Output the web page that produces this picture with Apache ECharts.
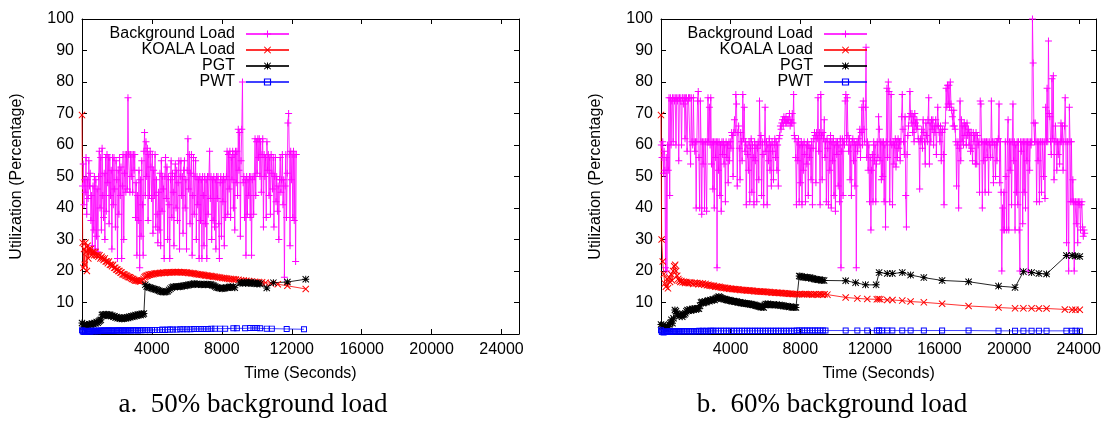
<!DOCTYPE html>
<html>
<head>
<meta charset="utf-8">
<script src="https://cdn.jsdelivr.net/npm/echarts@6/dist/echarts.min.js"></script>
<style>
html,body{margin:0;padding:0;background:#fff;}
#chart{width:1104px;height:425px;}
</style>
</head>
<body>
<div id="chart"></div>
<script>
// ---------- labels ----------
const seriesNames = ['Background Load', 'KOALA Load', 'PGT', 'PWT'];
const captions = ['a.  50% background load', 'b.  60% background load'];
const xTitle = 'Time (Seconds)';
const yTitle = 'Utilization (Percentage)';
const xTicks = [0, 4000, 8000, 12000, 16000, 20000, 24000];
const yTicks = [0, 10, 20, 30, 40, 50, 60, 70, 80, 90, 100];

// ---------- chart a: 50% background load ----------
const bgLoadA = [
[30,47],[70,54],[110,41],[150,49],[190,45],[230,56],[270,38],[310,49],[350,43],[390,55],[430,47],[470,51],[510,36],[550,44],[590,28],[630,47],[670,33],[710,50],[750,27],
[790,49],[830,31],[870,46],[910,26],[950,50],[990,58],[1030,40],[1070,56],[1110,33],[1150,59],[1190,44],[1230,37],[1270,51],[1310,30],[1350,56],[1390,39],[1430,57],[1470,48],[1510,56],[1550,35],[1590,56],[1630,44],[1670,52],[1710,27],[1750,56],[1790,41],
[1830,56],[1870,46],[1910,34],[1950,55],[1990,49],[2030,24],[2070,52],[2110,38],[2150,56],[2190,44],[2230,53],[2270,24],[2310,47],[2350,57],[2390,30],[2430,51],[2470,57],[2510,45],[2550,57],[2590,46],[2630,75],[2660,57],
[2700,57],[2740,45],[2780,57],[2820,50],[2860,57],[2900,45],[2940,57],[2980,52],[3020,57],[3060,37],[3100,48],[3140,25],[3180,44],[3220,36],[3260,52],[3300,21],[3340,49],[3380,31],[3420,55],[3460,41],[3500,25],
[3540,58],[3580,64],[3620,44],[3660,61],[3700,50],[3740,59],[3780,36],[3820,57],[3860,44],[3900,58],[3940,53],[3980,43],[4020,57],[4060,32],[4100,52],[4140,44],[4180,57],[4220,34],[4260,49],[4300,38],[4340,29],[4380,45],
[4420,33],[4460,51],[4500,28],[4540,55],[4580,39],[4620,50],[4660,46],[4700,24],[4740,50],[4780,56],[4820,43],[4860,53],[4900,30],[4940,50],[4980,41],[5020,24],[5060,49],[5100,55],[5140,37],[5180,51],[5220,45],[5260,28],[5300,50],[5340,54],[5380,40],[5420,52],[5460,36],[5500,48],[5540,55],[5580,27],[5620,50],
[5660,55],[5700,44],[5740,50],[5780,32],[5820,52],[5860,55],[5900,40],[5940,49],[5980,27],[6020,52],[6060,62],[6100,46],[6140,57],[6180,35],[6220,51],[6260,57],[6300,25],[6340,44],[6380,56],[6420,38],[6460,50],[6500,55],[6540,30],
[6580,50],[6620,41],[6660,49],[6700,24],[6740,50],[6780,36],[6820,49],[6860,24],[6900,50],[6940,44],[6980,28],[7020,50],[7060,35],[7100,49],[7140,24],[7180,50],[7220,38],[7260,50],[7300,58],[7340,43],[7380,50],[7420,30],[7460,49],[7500,36],
[7540,50],[7580,34],[7620,49],[7660,27],[7700,50],[7740,43],[7780,50],[7820,35],[7860,24],[7900,48],[7940,50],[7980,31],[8020,49],[8060,42],[8100,50],[8140,28],[8180,49],[8220,37],[8260,50],
[8300,58],[8340,38],[8380,57],[8420,46],[8460,58],[8500,37],[8540,56],[8580,49],[8620,58],[8660,40],[8700,57],[8740,33],[8780,58],[8820,48],[8860,58],[8900,44],[8940,65],[8980,52],[9020,64],[9060,31],[9100,55],[9140,65],[9180,80],[9220,48],
[9260,50],[9300,37],[9340,49],[9380,25],[9420,50],[9460,38],[9500,49],[9540,44],[9580,50],[9620,37],[9660,50],[9700,25],[9740,49],[9780,50],[9820,38],[9860,50],[9900,62],[9940,44],[9980,61],[10020,51],[10060,62],
[10100,56],[10140,62],[10180,50],[10220,61],[10260,45],[10300,57],[10340,62],[10380,34],[10420,57],[10460,50],[10500,56],[10540,37],[10580,61],[10620,52],[10660,57],[10700,44],[10740,56],[10780,38],[10820,57],[10860,51],[10900,46],[10940,56],[10980,34],[11020,50],[11060,56],[11100,42],[11140,50],[11180,39],[11220,47],[11260,30],[11300,49],
[11340,56],[11380,45],[11420,49],[11460,57],[11500,41],[11540,49],[11580,18],[11620,47],[11660,57],[11700,37],[11740,51],[11780,67],[11820,70],[11860,57],[11900,28],[11940,58],[11980,49],[12020,57],[12060,37],[12100,58],[12140,36],[12180,57],[12220,23],[12260,57]
];
const koalaA = [
[0,69.5],[40,29],[80,21],[120,27],[160,22],[200,29],[240,26],[280,20],[320,28],[360,24],[400,27],[450,26],[500,27],[550,25],[600,26],[650,26],[700,25],[760,26],[820,25],[880,25],[940,24.5],[1000,25],[1060,24],[1120,24.5],[1180,24],[1240,23.5],[1300,24],[1360,23],[1420,23],[1480,22.5],[1540,23],[1600,22],[1660,22],[1720,21.5],[1780,22],[1840,21],[1900,21],[1960,20.5],[2020,20.5],[2080,20],[2140,20],[2200,19.5],[2260,19.5],[2320,19],[2380,19],[2440,18.8],[2500,18.5],[2560,18.5],[2620,18.2],[2680,18],[2740,18],[2800,17.8],[2860,17.5],[2920,17.5],[2980,17.2],[3040,17],[3100,17],[3160,17],[3220,16.8],[3280,16.8],[3340,16.7],[3400,16.8],[3460,17],[3520,17.5],[3580,18],[3640,18.3],[3700,18.5],[3760,18.6],[3820,18.8],[3880,18.8],[3940,19],[4000,19],[4080,19],[4160,19.2],[4240,19.2],[4320,19.3],[4400,19.3],[4480,19.4],[4560,19.4],[4640,19.5],[4720,19.4],[4800,19.5],[4880,19.5],[4960,19.6],[5040,19.5],[5120,19.6],[5200,19.6],[5280,19.6],[5360,19.7],[5440,19.6],[5520,19.7],[5600,19.6],[5680,19.6],[5760,19.5],[5840,19.6],[5920,19.5],[6000,19.5],[6080,19.4],[6160,19.4],[6240,19.3],[6320,19.3],[6400,19.2],[6480,19.1],[6560,19],[6640,19],[6720,18.9],[6800,18.8],[6880,18.8],[6960,18.7],[7040,18.6],[7120,18.6],[7200,18.5],[7280,18.4],[7360,18.4],[7440,18.3],[7520,18.2],[7600,18.2],[7700,18.1],[7800,18],[7900,17.9],[8000,17.8],[8100,17.8],[8200,17.7],[8300,17.6],[8400,17.5],[8500,17.5],[8600,17.4],[8700,17.4],[8800,17.3],[8950,17.2],[9100,17.1],[9250,17],[9400,16.9],[9550,16.8],[9700,16.7],[9900,16.6],[10100,16.5],[10300,16.4],[10500,16.3],[10800,16.1],[11200,15.8],[11750,15.3],[12800,14.3]
];
const pgtA = [
[0,3.5],[60,2.5],[120,3],[180,2.6],[240,2.8],[300,3],[360,2.7],[420,3.1],[480,2.9],[540,3.2],[600,3.3],[660,3.1],[720,3.5],[780,3.4],[840,3.8],[900,3.6],[960,4],[1020,4.3],[1080,4.5],
[1140,6],[1200,6.2],[1260,5.8],[1320,6.1],[1380,6.3],[1440,6],[1500,5.8],[1560,6.2],[1620,6],[1680,5.7],[1740,5.8],[1800,5.5],[1860,5.6],[1920,5.2],[1980,5.4],[2040,5],[2100,5.2],[2160,4.9],[2220,5.1],[2280,4.8],[2340,5],[2400,4.9],[2460,5.2],[2520,5],[2580,5.3],[2640,5.1],[2700,5.5],[2760,5.3],[2820,5.6],[2880,5.5],[2940,5.8],[3000,5.6],[3060,6],[3120,5.8],[3180,6.1],[3240,6],[3300,6.3],[3360,6],[3420,6.4],[3480,6.2],[3540,6.5],
[3620,15.6],[3700,15.1],[3780,14.9],[3860,14.8],[3940,14.6],[4020,14.5],[4100,14.3],[4180,14.2],[4260,14.1],[4340,13.9],[4420,13.7],[4500,13.5],[4580,13.4],[4660,13.3],[4740,13.3],[4820,13.4],[4900,13.6],[4980,14],[5060,14.4],[5140,14.8],[5220,15],[5300,14.9],[5380,15.1],[5460,15],[5540,15.1],[5620,15],[5700,15.2],[5780,15.3],[5860,15.2],[5940,15.5],[6020,15.4],[6100,15.6],[6180,15.7],[6260,15.6],[6340,15.9],[6420,16],[6500,15.8],[6580,15.9],[6660,15.7],[6740,15.8],[6820,15.6],[6900,15.7],[6980,15.9],[7060,15.6],[7140,15.7],[7220,15.8],[7300,15.6],[7380,15.7],[7460,15.5],[7540,15.3],[7620,15.1],[7700,14.8],[7780,14.7],[7860,14.6],[7940,14.5],[8020,14.4],[8100,14.5],[8180,14.6],[8260,14.8],[8340,14.7],[8420,14.9],[8500,15],[8580,14.8],[8660,15],[8740,14.7],[9040,16.2],[9120,16.3],[9200,16.1],[9280,16.4],[9360,16.2],[9440,16.3],[9520,16.1],[9600,16.2],[9680,16.4],[9760,16.1],[9840,16],[9920,16.2],[10000,15.9],[10100,16.1],[10190,15.9],[10570,14.6],[10950,16.3],[11750,16.5],[12800,17.4]
];
const pwtA = [
[0,1.2],[50,0.8],[100,0.7],[150,0.9],[200,0.8],[250,0.9],[300,0.8],[350,1],[400,0.9],[450,0.8],[500,0.9],[560,1],[620,0.9],[680,1],[740,0.9],[800,1],[860,1],[920,0.9],[980,1],[1040,1],[1100,1.1],[1160,1],[1220,1],[1280,1.1],[1340,1],[1400,1.1],[1460,1],[1520,1.1],[1580,1.1],[1640,1],[1700,1.1],[1760,1.1],[1840,1],[1920,1.1],[2000,1.1],[2080,1.2],[2160,1.1],[2240,1.1],[2320,1.2],[2400,1.1],[2480,1.2],[2560,1.1],[2640,1.2],[2720,1.2],[2800,1.1],[2900,1.2],[3000,1.2],[3100,1.2],[3200,1.1],[3300,1.2],[3400,1.2],[3500,1.3],[3620,1.2],[3750,1.3],[3880,1.2],[4000,1.3],[4150,1.3],[4300,1.3],[4450,1.3],[4600,1.4],[4750,1.3],[4900,1.4],[5050,1.4],[5200,1.4],[5420,1.4],[5620,1.5],[5800,1.5],[6000,1.5],[6200,1.5],[6400,1.6],[6600,1.6],[6800,1.6],[7000,1.6],[7200,1.6],[7400,1.7],[7600,1.7],[7900,1.7],[8190,1.7],[8660,1.8],[8860,1.8],[9330,1.8],[9620,1.9],[9810,1.9],[10000,1.9],[10190,1.8],[10570,1.7],[10860,1.7],[11710,1.6],[12700,1.5]
];

// ---------- chart b: 60% background load ----------
const bgLoadB = [
[20,60],[60,56],[100,61],[140,51],[180,58],[220,52],[260,21],[300,56],[340,20],[380,60],[420,52],[460,75],[500,44],[540,75],[580,60],[620,74],
[660,75],[700,61],[740,75],[780,74],[820,75],[860,60],[900,75],[940,74],[980,75],[1020,55],[1060,75],[1100,75],[1140,74],[1180,60],[1220,75],[1260,75],[1300,73],[1340,75],[1380,62],[1420,75],[1460,75],[1500,58],[1540,74],[1580,75],[1620,75],[1660,75],[1700,54],[1740,75],
[1780,61],[1820,60],[1860,75],[1900,61],[1940,58],[1980,61],[2020,40],[2060,61],[2100,74],[2140,77],[2180,56],[2220,40],[2260,74],[2300,61],[2340,38],[2380,61],
[2420,54],[2460,61],[2500,40],[2540,61],[2580,61],[2620,39],[2660,61],[2700,75],[2740,61],[2780,72],[2820,60],[2860,75],[2900,54],[2940,61],[2980,46],[3020,61],[3060,40],[3100,61],[3140,56],[3180,61],[3220,21],[3260,61],[3300,52],[3340,61],[3380,44],[3420,60],[3460,39],[3500,61],[3540,57],[3580,61],[3620,54],[3660,60],[3700,42],[3740,61],[3780,56],[3820,60],[3860,48],[3900,61],[3940,55],[3980,61],[4020,59],
[4060,64],[4100,63],[4140,50],[4180,64],[4220,68],[4260,64],[4300,76],[4340,73],[4380,47],[4420,64],[4460,66],[4500,59],[4540,49],[4580,64],[4620,61],[4660,55],[4700,76],[4740,62],[4780,72],[4820,58],
[4860,61],[4900,41],[4940,60],[4980,57],[5020,52],[5060,61],[5100,42],[5140,59],[5180,62],[5220,45],[5260,60],[5300,56],[5340,41],[5380,61],[5420,55],[5460,60],[5500,42],[5540,59],[5580,61],[5620,49],
[5660,74],[5700,60],[5740,63],[5780,44],[5820,61],[5860,57],[5900,41],[5940,61],[5980,72],[6020,58],[6060,61],[6100,41],[6140,60],[6180,55],[6220,62],[6260,52],[6300,60],[6340,47],[6380,61],[6420,58],[6460,49],[6500,60],
[6540,62],[6580,56],[6620,61],[6660,52],[6700,60],[6740,47],[6780,62],[6820,63],[6860,66],[6900,65],[6940,67],[6980,68],[7020,66],[7060,69],[7100,68],[7140,67],[7180,69],[7220,67],[7260,68],[7300,67],[7340,68],[7380,70],[7420,66],[7460,68],[7500,67],[7540,70],[7580,67],
[7620,76],[7660,63],[7700,62],[7740,56],[7780,41],[7820,61],[7860,55],[7900,62],[7940,42],[7980,60],[8020,48],[8060,61],[8100,41],[8140,60],[8180,52],[8220,61],[8260,57],[8300,42],[8340,60],[8380,54],[8420,61],[8460,44],[8500,60],[8540,56],[8580,59],[8620,49],[8660,61],[8700,41],[8740,59],[8780,62],
[8820,64],[8860,63],[8900,48],[8940,64],[8980,62],[9020,75],[9060,58],[9100,64],[9140,41],[9180,76],[9220,63],[9260,49],[9300,64],[9340,62],[9380,68],[9420,56],[9460,61],[9500,42],[9540,62],[9580,59],[9620,41],[9660,61],[9700,52],[9740,63],[9780,40],[9820,61],[9860,55],[9900,62],[9940,44],[9980,60],[10020,39],[10060,61],
[10100,57],[10140,61],[10180,47],[10220,60],[10260,42],[10300,62],[10340,21],[10380,58],[10420,62],[10460,44],[10500,61],[10540,60],[10580,74],[10620,76],[10660,61],[10700,75],[10740,63],[10780,58],[10820,62],[10860,49],[10900,60],[10940,44],[10980,61],[11020,62],[11060,55],[11100,61],[11140,47],[11180,60],[11220,21],[11260,61],[11300,58],[11340,62],[11380,60],[11420,65],[11460,56],[11500,64],[11540,72],[11580,60],[11620,74],[11660,65],[11700,61],[11740,72],[11780,91],
[11820,56],[11860,61],[11900,52],[11940,60],[11980,42],[12020,56],[12060,33],[12100,52],[12140,57],[12180,42],[12220,61],[12260,55],[12300,60],[12340,42],[12380,54],[12420,61],
[12460,56],[12500,69],[12540,65],[12580,55],[12620,61],[12660,49],[12700,61],
[12740,50],[12780,61],[12820,42],[12860,60],[12900,34],[12940,61],[12980,78],[13020,56],[13060,80],[13100,77],[13140,42],[13180,61],[13220,76],[13260,60],[13300,41],
[13340,61],[13380,54],[13420,60],[13460,62],[13500,53],[13540,61],[13580,56],[13620,62],[13660,59],[13700,61],[13740,55],
[13780,61],[13820,69],[13860,76],[13900,65],[13940,61],[13980,57],[14020,69],[14060,44],[14100,34],[14140,57],[14180,63],
[14220,66],[14260,69],[14300,77],[14340,70],[14380,67],[14420,70],[14460,64],[14500,69],[14540,61],[14580,70],[14620,67],[14660,65],[14700,68],
[14740,66],[14780,62],[14820,61],[14860,46],[14900,62],[14940,61],[14980,65],[15020,59],[15060,68],[15100,64],[15140,61],[15180,54],[15220,67],[15260,63],[15300,61],[15340,68],[15380,75],[15420,54],[15460,67],[15500,61],
[15540,68],[15580,65],[15620,68],[15660,60],[15700,66],[15740,64],[15780,68],[15820,57],[15860,66],[15900,72],[15940,66],[15980,64],[16020,61],[16060,66],[16100,55],[16140,64],[16180,65],[16220,57],[16260,41],[16300,65],
[16340,67],[16380,78],[16420,72],[16460,79],[16500,73],[16540,79],[16580,72],[16620,80],[16660,73],[16700,71],[16740,69],[16780,66],[16820,71],[16860,66],[16900,65],
[16940,61],[16980,47],[17020,60],[17060,61],[17100,40],[17140,59],[17180,74],[17220,55],[17260,68],[17300,61],[17340,66],[17380,60],[17420,67],[17460,63],
[17500,66],[17540,60],[17580,67],[17620,63],[17660,65],[17700,60],[17740,64],[17780,58],[17820,64],[17860,59],[17900,55],[17940,64],[17980,61],[18020,63],[18060,54],[18100,64],
[18140,54],[18180,63],[18220,60],[18260,61],[18300,45],[18340,74],[18380,73],[18420,61],[18460,40],[18500,61],[18540,55],[18580,61],[18620,45],[18660,61],[18700,61],[18740,56],[18780,61],[18820,45],[18860,61],[18900,60],[18940,56],[18980,74],[19020,61],
[19060,61],[19100,48],[19140,61],[19180,60],[19220,50],[19260,61],[19300,55],[19340,61],[19380,62],[19420,73],[19460,48],[19500,61],[19540,45],[19580,20],[19620,40],[19660,33],[19700,45],[19740,33],[19780,61],[19820,50],[19860,33],
[19900,61],[19940,68],[19980,33],[20020,61],[20060,52],[20100,61],[20140,41],[20180,61],[20220,73],[20260,55],[20300,61],[20340,33],[20380,60],[20420,45],[20460,61],[20500,41],[20540,61],[20580,33],[20620,20],[20660,61],
[20700,58],[20740,61],[20780,35],[20820,61],[20860,45],[20900,61],[20940,40],[20980,61],[21020,55],[21060,61],[21100,20],[21140,61],[21180,52],[21220,61],[21260,60],[21300,61],
[21340,100],[21380,86],[21420,67],[21460,61],[21500,67],[21540,61],[21580,42],
[21620,61],[21660,55],[21700,61],[21740,42],[21780,61],[21820,61],[21860,45],[21900,61],[21940,61],[21980,50],[22020,61],[22060,43],[22100,72],[22140,61],[22180,78],[22220,61],[22260,93],[22300,70],
[22340,69],[22380,61],[22420,57],[22460,81],[22500,62],[22540,82],[22580,49],[22620,61],[22660,66],[22700,61],[22740,52],[22780,61],[22820,57],[22860,61],
[22900,54],[22940,61],[22980,67],[23020,61],[23060,66],[23100,52],[23140,61],[23180,66],[23220,75],[23260,61],[23300,29],[23340,61],
[23380,61],[23420,20],[23460,72],[23500,61],[23540,42],[23580,61],[23620,42],[23660,49],[23700,42],[23740,20],[23780,42],[23820,42],[23860,35],[23900,42],[23940,29],[23980,42],[24020,41],[24060,42],[24100,33],[24140,41],[24180,42],[24220,34],[24260,31],[24300,33],[24340,32]
];
const koalaB = [
[0,69.5],[36,30],[100,23],[160,19],[220,16],[280,15],[340,17.5],[400,14.5],[460,18],[520,16.5],[580,19],[640,17],[700,20],[760,21.5],[814,22],[870,20],[930,18.5],[990,17.5],[1050,17],[1110,16.5],[1170,16.8],[1240,16.4],[1310,16.6],[1380,16.2],[1450,16.5],[1520,16.3],[1600,16.1],[1680,16.4],[1760,16.2],[1840,15.9],[1920,16.3],[2000,16],[2080,16.2],[2160,15.8],[2240,16.1],[2320,15.8],[2400,16],[2480,15.6],[2560,15.9],[2640,15.5],[2720,15.6],[2800,15.3],[2880,15.4],[2960,15.2],[3040,15.3],[3120,15],[3200,15.1],[3280,14.9],[3360,15],[3440,14.8],[3520,14.8],[3600,14.6],[3680,14.7],[3760,14.5],[3840,14.5],[3920,14.4],[4000,14.4],[4080,14.3],[4160,14.3],[4240,14.2],[4320,14.2],[4400,14.1],[4480,14.1],[4560,14],[4640,14],[4720,14],[4800,13.9],[4880,13.9],[4960,13.8],[5040,13.8],[5120,13.8],[5200,13.7],[5280,13.7],[5360,13.6],[5440,13.6],[5520,13.6],[5600,13.5],[5680,13.5],[5760,13.5],[5840,13.4],[5920,13.4],[6000,13.4],[6080,13.3],[6160,13.3],[6240,13.3],[6320,13.2],[6400,13.2],[6480,13.2],[6560,13.1],[6640,13.1],[6720,13.1],[6800,13],[6880,13],[6960,13],[7040,12.9],[7120,12.9],[7200,12.9],[7280,12.8],[7360,12.8],[7440,12.8],[7520,12.7],[7600,12.7],[7700,12.7],[7800,12.6],[7900,12.6],[8000,12.7],[8100,12.6],[8200,12.6],[8300,12.7],[8400,12.6],[8500,12.6],[8600,12.6],[8700,12.5],[8800,12.6],[8900,12.6],[9000,12.5],[9100,12.6],[9200,12.6],[9300,12.5],[9400,12.6],[9560,12.5],[10610,11.6],[11280,11.3],[11850,11.1],[12400,11],[12500,11.1],[12600,11],[13000,10.8],[13300,10.8],[13860,10.6],[14340,10.3],[15100,10.05],[16150,9.6],[17670,8.9],[19390,8.4],[20340,8.15],[20820,8.15],[21290,8.15],[21710,8.1],[22150,8.1],[23200,7.8],[23620,7.7],[23810,7.7],[24060,7.7]
];
const pgtB = [
[0,3],[60,2.5],[120,2.8],[180,2],[240,2.6],[300,1.8],[360,2.2],[418,1.8],[480,3],[540,3.5],[600,4.5],[660,3.4],[720,5],[798,7.6],[860,7.2],[920,6.5],[980,6],[1040,5.6],[1100,6.2],[1160,6],[1220,5.5],[1280,6],[1340,6.2],[1400,6.6],[1460,7.2],[1520,7.6],[1580,7.4],[1640,7.8],[1700,7.5],[1760,7.6],[1820,8],[1880,7.7],[1940,8.1],[2000,7.8],[2060,8.1],[2120,8.2],[2180,8],[2240,9],[2300,10],[2360,10.2],[2420,9.8],[2480,10],[2540,10.3],[2600,10.1],[2660,10.5],[2720,10.6],[2780,10.4],[2840,10.8],[2900,10.6],[2960,10.9],[3020,11],[3080,10.8],[3140,11.2],[3200,11.4],[3260,11.6],[3320,11.9],[3380,11.7],[3440,11.5],[3500,11.3],[3560,11.2],[3620,11],[3680,11.1],[3740,10.9],[3800,10.8],[3860,10.7],[3920,10.8],[3980,10.6],[4040,10.5],[4100,10.4],[4160,10.5],[4220,10.3],[4280,10.2],[4340,10.3],[4400,10.1],[4460,10],[4520,10.1],[4580,9.9],[4640,9.8],[4700,9.9],[4760,9.7],[4820,9.8],[4880,9.6],[4940,9.7],[5000,9.5],[5060,9.6],[5120,9.4],[5180,9.5],[5240,9.3],[5300,9.2],[5360,9.3],[5420,9.1],[5480,9],[5540,8.9],[5600,8.8],[5660,8.7],[5720,8.6],[5780,8.5],[5840,8.6],[5900,8.4],[5960,9.2],[6020,9.5],[6080,9.4],[6140,9.6],[6200,9.3],[6260,9.4],[6320,9.2],[6400,9.3],[6480,9.4],[6560,9.2],[6640,9.3],[6720,9.1],[6800,9.2],[6880,9],[6960,9.1],[7040,8.9],[7120,8.8],[7200,8.9],[7280,8.7],[7360,8.6],[7440,8.7],[7520,8.5],[7600,8.4],[7680,8.5],[7752,8.4],[7942,18.4],[8000,18.3],[8080,18.2],[8160,18],[8240,18.1],[8320,17.9],[8400,18],[8480,17.8],[8560,17.9],[8640,17.7],[8720,17.6],[8800,17.5],[8880,17.4],[8960,17.3],[9040,17.2],[9120,17.2],[9200,17.1],[9280,17.1],[9371,17],[10610,16.9],[11180,16.3],[11750,15.6],[12360,15.6],[12530,19.5],[13000,19.2],[13290,19.2],[13860,19.5],[14340,18.7],[15100,17.9],[16150,17],[17670,16.6],[19390,15.2],[20340,14.8],[20820,19.8],[21290,19.5],[21710,19.2],[22150,19.05],[23290,24.9],[23620,24.9],[23810,24.8],[24060,24.6]
];
const pwtB = [
[0,1.2],[50,0.6],[100,0.8],[150,0.5],[200,0.7],[250,0.6],[300,0.8],[360,0.6],[420,0.7],[480,0.9],[540,0.7],[600,0.8],[660,0.9],[720,0.8],[800,0.9],[880,0.9],[960,0.8],[1040,0.9],[1120,0.9],[1200,0.9],[1300,0.9],[1400,0.9],[1500,0.9],[1600,0.9],[1700,0.9],[1800,0.9],[1900,0.9],[2000,0.9],[2100,0.9],[2200,1],[2300,0.9],[2400,1],[2500,0.9],[2600,1],[2700,0.9],[2800,1],[2900,1],[3000,1],[3150,1],[3300,1],[3450,1],[3600,1],[3750,1],[3900,1],[4050,1],[4200,1],[4350,1],[4500,1],[4650,1],[4800,1],[4950,1],[5100,1],[5250,1],[5400,1],[5550,1],[5700,1],[5850,1],[6000,1],[6150,1],[6300,1],[6450,1],[6600,1],[6750,1],[6900,1],[7050,1],[7200,1],[7350,1],[7500,1],[7650,1],[7800,1.1],[7950,1.1],[8100,1.1],[8250,1.1],[8400,1.1],[8550,1.1],[8700,1.1],[8850,1.1],[9000,1.1],[9150,1.1],[9300,1.1],[9450,1.1],[10610,1.1],[11280,1.1],[11850,1.1],[12400,1.1],[12530,1.1],[12700,1.1],[13000,1.1],[13290,1.1],[13860,1.1],[14340,1.1],[15100,1.1],[16150,1.1],[17670,1.1],[19390,1],[20340,1],[20820,1],[21290,1],[21710,1],[22150,1],[23290,1],[23620,1],[23810,1],[24060,1]
];

// ---------- styling ----------
const FONT = 'Liberation Sans, Arial, sans-serif';
const SYM_PLUS = 'path://M4.3,0H5.7V4.3H10V5.7H5.7V10H4.3V5.7H0V4.3H4.3Z';
const SYM_X = 'path://M0,1L1,0L5,4L9,0L10,1L6,5L10,9L9,10L5,6L1,10L0,9L4,5Z';
const SYM_STAR = 'path://M4.3,0H5.7V4.3H10V5.7H5.7V10H4.3V5.7H0V4.3H4.3ZM0,1L1,0L5,4L9,0L10,1L6,5L10,9L9,10L5,6L1,10L0,9L4,5Z';
const SYM_SQ = 'path://M0,0H10V10H0ZM1.6,1.6V8.4H8.4V1.6Z';
const styles = [
  {color: '#ff00ff', line: 'rgba(255,0,255,0.8)', symbol: SYM_PLUS, size: 7},
  {color: '#ff0000', line: 'rgba(255,0,0,0.8)', symbol: SYM_X, size: 7},
  {color: '#000000', line: 'rgba(0,0,0,0.85)', symbol: SYM_STAR, size: 7},
  {color: '#0000ff', line: 'rgba(0,0,255,0.75)', symbol: SYM_SQ, size: 6}
];

const grids = [
  {left: 82, top: 19, width: 437, height: 315},
  {left: 661, top: 19, width: 437, height: 315}
];

function xAxes(gi) {
  const base = {
    type: 'value', gridIndex: gi, min: xTicks[0], max: 25000, interval: xTicks[1] - xTicks[0],
    splitLine: {show: false},
    axisLine: {show: true, onZero: false, lineStyle: {color: '#000', width: 1}},
    axisTick: {show: true, inside: true, length: 5, lineStyle: {color: '#000'}}
  };
  return [
    Object.assign({}, base, {
      position: 'bottom',
      name: xTitle, nameLocation: 'middle', nameGap: 32,
      nameTextStyle: {fontFamily: FONT, fontSize: 16, color: '#000'},
      axisLabel: {show: true, margin: 8, fontFamily: FONT, fontSize: 16, color: '#000',
        formatter: v => (v === 0 || xTicks.indexOf(v) < 0) ? '' : String(v)}
    }),
    Object.assign({}, base, {position: 'top', axisLabel: {show: false}})
  ];
}
function yAxes(gi) {
  const base = {
    type: 'value', gridIndex: gi, min: yTicks[0], max: yTicks[yTicks.length - 1], interval: yTicks[1] - yTicks[0],
    splitLine: {show: false},
    axisLine: {show: true, onZero: false, lineStyle: {color: '#000', width: 1}},
    axisTick: {show: true, inside: true, length: 5, lineStyle: {color: '#000'}}
  };
  return [
    Object.assign({}, base, {
      position: 'left',
      name: yTitle, nameLocation: 'middle', nameGap: 57,
      nameTextStyle: {fontFamily: FONT, fontSize: 16, color: '#000'},
      axisLabel: {show: true, margin: 8, fontFamily: FONT, fontSize: 16, color: '#000',
        formatter: v => v === 0 ? '' : String(v)}
    }),
    Object.assign({}, base, {position: 'right', axisLabel: {show: false}})
  ];
}

function makeSeries(data, idx, gi) {
  const s = styles[idx];
  return {
    type: 'line', name: seriesNames[idx], data: data,
    xAxisIndex: gi * 2, yAxisIndex: gi * 2,
    symbol: s.symbol, symbolSize: s.size, showSymbol: true, showAllSymbol: true,
    lineStyle: {color: s.line, width: 1},
    itemStyle: {color: s.color},
    emphasis: {disabled: true},
    clip: true, animation: false
  };
}

function legend(rightPx) {
  return {
    data: seriesNames, orient: 'vertical', right: rightPx, top: 26, padding: 0,
    align: 'right', itemWidth: 43, itemHeight: 9, itemGap: 0,
    selectedMode: false,
    textStyle: {fontFamily: FONT, fontSize: 16, color: '#000', lineHeight: 16, padding: [0, 6, 0, 0]}
  };
}

const option = {
  backgroundColor: '#fff',
  animation: false,
  grid: grids,
  xAxis: [].concat(xAxes(0), xAxes(1)),
  yAxis: [].concat(yAxes(0), yAxes(1)),
  legend: [legend(1104 - 290), legend(1104 - 868)],
  title: [
    {text: captions[0], left: 253, top: 391, textAlign: 'center', padding: 0,
     textStyle: {fontFamily: 'Liberation Serif, Times New Roman, serif', fontSize: 27, fontWeight: 'normal', color: '#000'}},
    {text: captions[1], left: 832, top: 391, textAlign: 'center', padding: 0,
     textStyle: {fontFamily: 'Liberation Serif, Times New Roman, serif', fontSize: 27, fontWeight: 'normal', color: '#000'}}
  ],
  series: [
    makeSeries(bgLoadA, 0, 0), makeSeries(koalaA, 1, 0), makeSeries(pgtA, 2, 0), makeSeries(pwtA, 3, 0),
    makeSeries(bgLoadB, 0, 1), makeSeries(koalaB, 1, 1), makeSeries(pgtB, 2, 1), makeSeries(pwtB, 3, 1)
  ]
};

const chart = echarts.init(document.getElementById('chart'), null, {renderer: 'canvas'});
chart.setOption(option);
</script>
</body>
</html>
